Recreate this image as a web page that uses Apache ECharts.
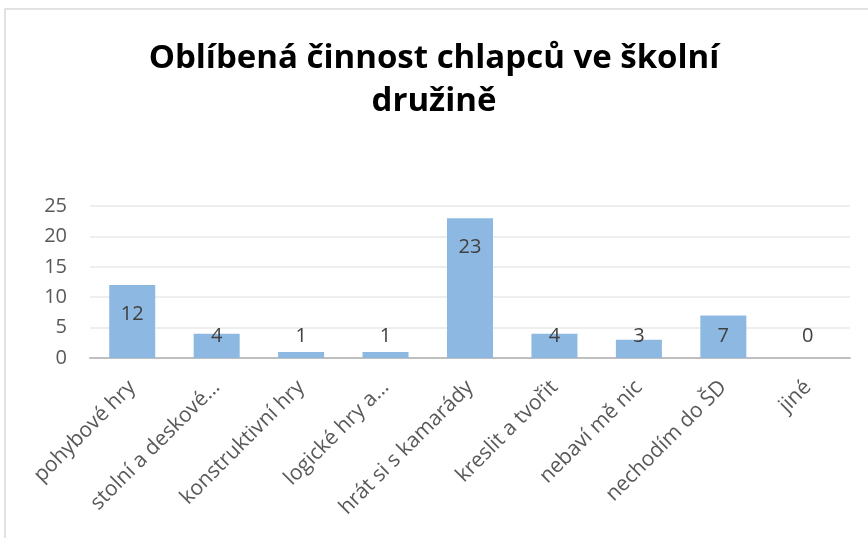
<!DOCTYPE html>
<html>
<head>
<meta charset="utf-8">
<script src="https://cdn.jsdelivr.net/npm/echarts@6/dist/echarts.min.js"></script>
<style>
  html, body { margin: 0; padding: 0; background: #fff; }
  #chart { width: 868px; height: 538px; }
</style>
</head>
<body>
<div id="chart"></div>
<script>
// data
const categories = ['pohybové hry', 'stolní a deskové…', 'konstruktivní hry', 'logické hry a…', 'hrát si s kamarády', 'kreslit a tvořit', 'nebaví mě nic', 'nechodím do ŠD', 'jiné'];
const values = [12, 4, 1, 1, 23, 4, 3, 7, 0];
const yTicks = [0, 5, 10, 15, 20, 25];

const fontName = 'Open Sans';

// vysoké sloupce mají popisek uvnitř nahoře, nízké drží nad osou
const seriesData = values.map(v => {
  let item = { value: v };
  if (v < 9) {
    item.label = { position: 'insideBottom', distance: 12 };
  }
  return item;
});

let chart = echarts.init(document.getElementById('chart'), null, { renderer: 'canvas' });
chart.setOption({
  backgroundColor: '#fff',
  animation: false,
  graphic: [
    {
      type: 'rect',
      shape: { x: 5, y: 9, width: 1000, height: 700 },
      style: { fill: 'none', stroke: '#d9d9d9', lineWidth: 1.5 }
    }
  ],
  title: {
    text: 'Oblíbená činnost chlapců ve školní\ndružině',
    left: 'center',
    top: 32,
    textStyle: {
      fontFamily: fontName,
      fontSize: 33,
      fontWeight: 'bold',
      color: '#000',
      lineHeight: 43
    }
  },
  grid: {
    left: 90,
    right: 18,
    top: 206,
    bottom: 180,
    containLabel: false
  },
  xAxis: {
    type: 'category',
    data: categories,
    axisLine: { lineStyle: { color: '#bfbfbf', width: 2 } },
    axisTick: { show: false },
    axisLabel: {
      rotate: 45,
      interval: 0,
      margin: 26,
      color: '#595959',
      fontFamily: fontName,
      fontSize: 21
    }
  },
  yAxis: {
    type: 'value',
    min: yTicks[0],
    max: yTicks[yTicks.length - 1],
    interval: yTicks[1] - yTicks[0],
    axisLine: { show: false },
    axisTick: { show: false },
    splitLine: { lineStyle: { color: '#e8e8e8', width: 1.5 } },
    axisLabel: {
      margin: 23,
      color: '#595959',
      fontFamily: fontName,
      fontSize: 20
    }
  },
  series: [
    {
      type: 'bar',
      data: seriesData,
      barWidth: 46,
      itemStyle: { color: '#8db8e1' },
      label: {
        show: true,
        position: 'insideTop',
        distance: 19,
        color: '#404040',
        fontFamily: fontName,
        fontSize: 20
      }
    }
  ]
});
</script>
</body>
</html>
